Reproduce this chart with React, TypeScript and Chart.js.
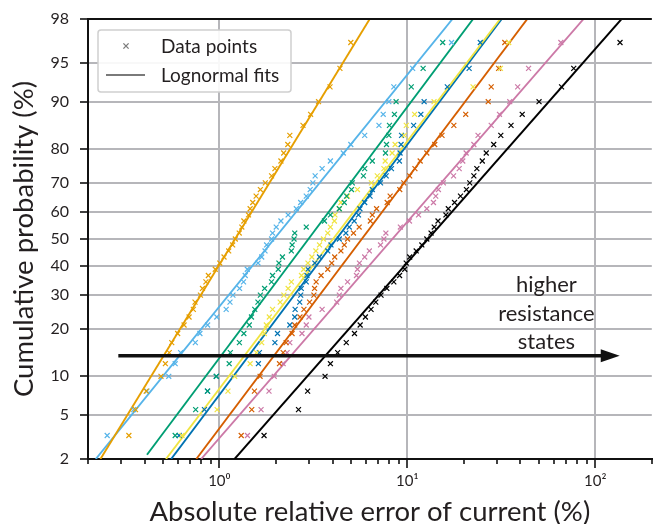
import { useEffect, useRef } from "react";
import { Chart, registerables } from "chart.js";
Chart.register(...registerables);

const FONT = "Lato, 'DejaVu Sans', sans-serif";
const TEXT = "#231f20";
const GRID = "#b6b6ba";

// cumulative probability (%) of each plotted rank
const probs = [3.33, 5.56, 7.78, 10.0, 12.22, 14.44, 16.67, 18.89, 21.11, 23.33, 25.56, 27.78, 30.0, 32.22, 34.44, 36.67, 38.89, 41.11, 43.33, 45.56, 47.78, 50.0, 52.22, 54.44, 56.67, 58.89, 61.11, 63.33, 65.56, 67.78, 70.0, 72.22, 74.44, 76.67, 78.89, 81.11, 83.33, 85.56, 87.78, 90.0, 92.22, 94.44, 96.67];

const orangeX = [0.330, 0.358, 0.408, 0.489, 0.516, 0.541, 0.558, 0.600, 0.649, 0.690, 0.727, 0.742, 0.793, 0.813, 0.848, 0.874, 0.951, 1.005, 1.059, 1.121, 1.177, 1.216, 1.276, 1.317, 1.350, 1.429, 1.458, 1.505, 1.569, 1.653, 1.756, 1.896, 1.975, 2.126, 2.199, 2.313, 2.371, 2.786, 3.059, 3.371, 3.880, 4.381, 5.006];
const skyX = [0.253, 0.350, 0.412, 0.538, 0.582, 0.622, 0.745, 0.788, 0.866, 0.969, 1.087, 1.139, 1.181, 1.281, 1.345, 1.373, 1.408, 1.606, 1.680, 1.750, 1.784, 1.896, 1.919, 2.007, 2.126, 2.322, 2.568, 2.709, 2.900, 3.044, 3.145, 3.234, 3.522, 3.898, 4.565, 5.006, 5.933, 7.068, 7.445, 7.978, 8.479, 10.68, 17.20];
const greenX = [0.582, 0.748, 0.866, 0.963, 1.128, 1.144, 1.278, 1.350, 1.443, 1.482, 1.543, 1.604, 1.653, 1.741, 1.894, 1.919, 2.057, 2.074, 2.166, 2.416, 2.440, 2.497, 2.518, 2.900, 3.625, 3.898, 4.349, 4.621, 4.752, 5.048, 5.100, 5.842, 5.933, 6.515, 7.656, 7.750, 7.978, 8.037, 8.541, 8.718, 10.50, 12.14, 15.43];
const yellowX = [0.633, 0.973, 1.111, 1.206, 1.458, 1.575, 1.680, 1.735, 1.778, 1.844, 1.919, 2.107, 2.204, 2.322, 2.416, 2.735, 2.809, 2.960, 3.107, 3.262, 3.412, 3.581, 3.773, 3.898, 4.093, 4.124, 4.349, 4.434, 4.810, 5.430, 6.437, 6.923, 7.509, 7.628, 8.306, 8.613, 9.643, 9.879, 10.94, 13.88, 22.39, 31.30, 34.66];
const blueX = [0.611, 0.833, 0.864, 0.963, 1.613, 1.633, 1.975, 2.039, 2.371, 2.518, 2.530, 2.676, 2.709, 2.729, 2.900, 2.924, 2.960, 3.222, 3.412, 3.773, 3.927, 4.349, 4.712, 4.911, 5.218, 5.498, 5.598, 5.933, 6.336, 6.515, 7.205, 7.722, 8.236, 9.075, 9.152, 9.265, 9.320, 10.81, 11.81, 12.29, 16.33, 21.33, 24.46];
const vermX = [1.307, 1.487, 1.537, 1.647, 2.089, 2.185, 2.266, 2.437, 2.518, 2.686, 2.819, 3.021, 3.184, 3.211, 3.273, 3.478, 3.773, 3.962, 4.109, 4.434, 4.621, 4.810, 5.173, 5.544, 6.360, 6.515, 6.864, 7.816, 8.106, 9.118, 9.572, 10.30, 10.98, 11.71, 12.70, 14.00, 15.30, 17.69, 20.46, 26.96, 27.96, 30.62, 33.03];
const pinkX = [1.411, 1.667, 1.837, 1.959, 2.185, 2.294, 2.371, 2.752, 2.900, 2.996, 3.522, 4.209, 4.349, 4.434, 4.810, 5.365, 5.430, 5.564, 5.933, 6.282, 7.205, 7.509, 7.692, 9.185, 10.27, 11.48, 12.70, 13.78, 14.17, 14.64, 15.56, 17.63, 18.89, 19.73, 20.57, 22.61, 23.79, 27.96, 30.93, 35.09, 38.67, 44.19, 65.64];
const blackX = [1.729, 2.637, 2.949, 3.651, 3.898, 4.261, 4.734, 5.236, 5.612, 5.984, 6.414, 6.798, 7.250, 7.787, 8.479, 9.096, 9.690, 9.868, 10.30, 11.15, 11.95, 12.70, 13.38, 13.91, 14.57, 16.05, 16.53, 17.84, 19.19, 20.64, 21.49, 22.61, 23.45, 25.07, 26.31, 28.83, 31.45, 35.64, 40.88, 50.24, 66.20, 76.86, 135.5];

const seriesX = [orangeX, skyX, greenX, yellowX, blueX, vermX, pinkX, blackX];
const colors = ["#E69F00", "#56B4E9", "#009E73", "#F0E442", "#0072B2", "#D55E00", "#CC79A7", "#000000"];

// lognormal fit lines: end points (x value, cumulative %)
const fitLowX = [0.233, 0.220, 0.412, 0.520, 0.554, 0.754, 0.800, 1.205];
const fitLowP = [2, 2, 2.2, 2, 2, 2, 2, 2];
const fitHighX = [6.31, 17.4, 22.4, 31.2, 31.8, 43.5, 86.7, 138];
const fitHighP = [98, 98, 98, 98, 98, 98, 98, 98];

const yTickP = [2, 5, 10, 20, 30, 40, 50, 60, 70, 80, 90, 95, 98];
const xTickVals = [0.2, 0.3, 0.4, 0.5, 0.6, 0.7, 0.8, 0.9, 1, 2, 3, 4, 5, 6, 7, 8, 9, 10, 20, 30, 40, 50, 60, 70, 80, 90, 100, 200];
const xMajor = [1, 10, 100];
const xMajorLabels = ["10\u2070", "10\u00b9", "10\u00b2"];

// inverse normal CDF (probability axis transform)
function ppf(p: number): number {
  const a = [-3.969683028665376e1, 2.209460984245205e2, -2.759285104469687e2, 1.38357751867269e2, -3.066479806614716e1, 2.506628277459239];
  const b = [-5.447609879822406e1, 1.615858368580409e2, -1.556989798598866e2, 6.680131188771972e1, -1.328068155288572e1];
  const c = [-7.784894002430293e-3, -3.223964580411365e-1, -2.400758296434441, -2.549732539343734, 4.374664141464968, 2.938163982698783];
  const d = [7.784695709041462e-3, 3.224671290700398e-1, 2.445134137142996, 3.754408661907416];
  const pl = 0.02425;
  if (p < pl) {
    const q = Math.sqrt(-2 * Math.log(p));
    return (((((c[0] * q + c[1]) * q + c[2]) * q + c[3]) * q + c[4]) * q + c[5]) / ((((d[0] * q + d[1]) * q + d[2]) * q + d[3]) * q + 1);
  }
  if (p <= 1 - pl) {
    const q = p - 0.5, r = q * q;
    return ((((((a[0] * r + a[1]) * r + a[2]) * r + a[3]) * r + a[4]) * r + a[5]) * q) / (((((b[0] * r + b[1]) * r + b[2]) * r + b[3]) * r + b[4]) * r + 1);
  }
  const q = Math.sqrt(-2 * Math.log(1 - p));
  return -(((((c[0] * q + c[1]) * q + c[2]) * q + c[3]) * q + c[4]) * q + c[5]) / ((((d[0] * q + d[1]) * q + d[2]) * q + d[3]) * q + 1);
}

const overlay = {
  id: "overlay",
  afterDraw(chart: any) {
    const { ctx, chartArea: ca, scales } = chart;
    const xs = scales.x, ys = scales.y;
    ctx.save();
    // top spine
    ctx.strokeStyle = "#111";
    ctx.lineWidth = 2;
    ctx.beginPath();
    ctx.moveTo(ca.left - 1, ca.top);
    ctx.lineTo(ca.right, ca.top);
    ctx.stroke();
    // x tick marks
    ctx.lineWidth = 1.6;
    xTickVals.forEach((v) => {
      const px = Math.round(xs.getPixelForValue(v));
      const len = xMajor.includes(v) ? 9 : 5;
      ctx.beginPath();
      ctx.moveTo(px, ca.bottom);
      ctx.lineTo(px, ca.bottom + len);
      ctx.stroke();
    });
    // y tick marks
    yTickP.forEach((p) => {
      const py = Math.round(ys.getPixelForValue(ppf(p / 100)));
      ctx.beginPath();
      ctx.moveTo(ca.left - 8, py);
      ctx.lineTo(ca.left, py);
      ctx.stroke();
    });
    // legend
    const lx = ca.left + 10, ly = ca.top + 11;
    ctx.beginPath();
    ctx.roundRect(lx, ly, 193, 62, 3);
    ctx.fillStyle = "rgba(255,255,255,0.9)";
    ctx.fill();
    ctx.strokeStyle = "#cfcfcf";
    ctx.lineWidth = 1.5;
    ctx.stroke();
    ctx.strokeStyle = "#7a7a7a";
    ctx.lineWidth = 1.3;
    const mx = lx + 28, my = ly + 16;
    ctx.beginPath();
    ctx.moveTo(mx - 2.6, my - 2.6);
    ctx.lineTo(mx + 2.6, my + 2.6);
    ctx.moveTo(mx + 2.6, my - 2.6);
    ctx.lineTo(mx - 2.6, my + 2.6);
    ctx.stroke();
    ctx.lineWidth = 2;
    ctx.beginPath();
    ctx.moveTo(lx + 8, ly + 45);
    ctx.lineTo(lx + 47, ly + 45);
    ctx.stroke();
    ctx.fillStyle = TEXT;
    ctx.font = `19px ${FONT}`;
    ctx.textAlign = "left";
    ctx.textBaseline = "alphabetic";
    ctx.fillText("Data points", lx + 63, ly + 23);
    ctx.fillText("Lognormal fits", lx + 63, ly + 52);
    // arrow
    const ax0 = xs.getPixelForValue(0.29);
    const ax1 = xs.getPixelForValue(135);
    const ay = ys.getPixelForValue(ppf(0.138));
    ctx.strokeStyle = "#111";
    ctx.fillStyle = "#111";
    ctx.lineWidth = 3.5;
    ctx.beginPath();
    ctx.moveTo(ax0, ay);
    ctx.lineTo(ax1 - 15, ay);
    ctx.stroke();
    ctx.beginPath();
    ctx.moveTo(ax1, ay);
    ctx.lineTo(ax1 - 19, ay - 6.5);
    ctx.lineTo(ax1 - 19, ay + 6.5);
    ctx.closePath();
    ctx.fill();
    const tx = xs.getPixelForValue(55);
    ctx.fillStyle = TEXT;
    ctx.font = `22px ${FONT}`;
    ctx.textAlign = "center";
    ctx.fillText("higher", tx, ay - 64);
    ctx.fillText("resistance", tx, ay - 35);
    ctx.fillText("states", tx, ay - 6.5);
    ctx.restore();
  },
};

export default function App() {
  const ref = useRef<HTMLCanvasElement>(null);
  useEffect(() => {
    const canvas = ref.current!;
    const datasets: any[] = [];
    seriesX.forEach((xsArr, k) => {
      datasets.push({
        data: xsArr.map((x, i) => ({ x, y: ppf(probs[i] / 100) })),
        pointStyle: "crossRot",
        pointRadius: 3.5,
        pointBorderWidth: 1.2,
        borderColor: colors[k],
        backgroundColor: colors[k],
        showLine: false,
      });
    });
    colors.forEach((col, k) => {
      datasets.push({
        data: [
          { x: fitLowX[k], y: ppf(fitLowP[k] / 100) },
          { x: fitHighX[k], y: ppf(fitHighP[k] / 100) },
        ],
        showLine: true,
        pointRadius: 0,
        borderColor: col,
        borderWidth: 1.9,
      });
    });
    const chart = new Chart(canvas, {
      type: "scatter",
      data: { datasets },
      options: {
        responsive: false,
        animation: false,
        events: [],
        layout: { padding: { top: 19, left: 0, right: 0, bottom: 0 } },
        plugins: { legend: { display: false }, tooltip: { enabled: false } },
        scales: {
          x: {
            type: "logarithmic",
            min: 0.2,
            max: 200,
            afterBuildTicks: (s: any) => {
              s.ticks = xTickVals.map((v) => ({ value: v }));
            },
            afterFit: (s: any) => {
              s.height = 65;
              s.paddingLeft = 0;
              s.paddingRight = 0;
            },
            ticks: {
              autoSkip: false,
              maxRotation: 0,
              padding: 13,
              color: TEXT,
              font: { family: FONT, size: 15 },
              callback: (v: any) => {
                const i = xMajor.indexOf(Number(v));
                return i >= 0 ? xMajorLabels[i] : "";
              },
            },
            grid: {
              drawTicks: false,
              lineWidth: 2,
              color: (c: any) => (c.tick && xMajor.includes(c.tick.value) ? GRID : "rgba(0,0,0,0)"),
            },
            border: { display: true, color: "#111", width: 2 },
            title: {
              display: true,
              text: "Absolute relative error of current (%)",
              color: TEXT,
              font: { family: FONT, size: 27.5, lineHeight: 0.9 },
              padding: 0,
            },
          },
          y: {
            type: "linear",
            min: ppf(0.02),
            max: ppf(0.98),
            afterBuildTicks: (s: any) => {
              s.ticks = yTickP.map((p) => ({ value: ppf(p / 100) }));
            },
            afterFit: (s: any) => {
              s.width = 88;
              s.paddingTop = 0;
              s.paddingBottom = 0;
            },
            ticks: {
              autoSkip: false,
              padding: 19,
              color: TEXT,
              font: { family: FONT, size: 16 },
              callback: (_v: any, i: number) => String(yTickP[i]),
            },
            grid: { drawTicks: false, lineWidth: 2, color: GRID },
            border: { display: true, color: "#111", width: 2 },
            title: {
              display: true,
              text: "Cumulative probability (%)",
              color: TEXT,
              font: { family: FONT, size: 27.5, lineHeight: 1 },
              padding: { top: 10, bottom: 0 },
            },
          },
        },
      },
      plugins: [overlay],
    });
    return () => chart.destroy();
  }, []);
  return (
    <div style={{ position: "absolute", left: 0, top: 0, width: 657, height: 524 }}>
      <canvas ref={ref} width={657} height={524} style={{ display: "block", width: 657, height: 524 }} />
    </div>
  );
}
